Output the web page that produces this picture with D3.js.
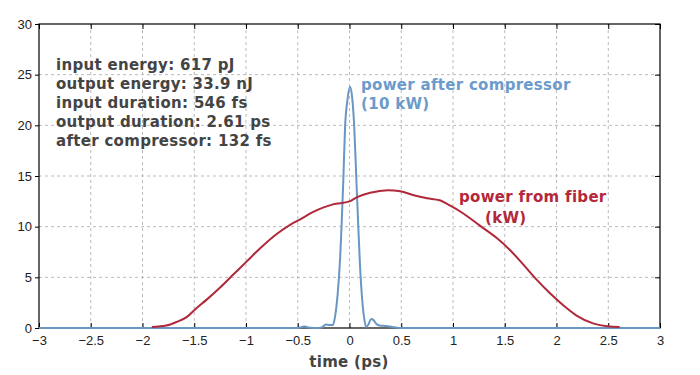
<!DOCTYPE html>
<html>
<head>
<meta charset="utf-8">
<script src="https://cdn.jsdelivr.net/npm/d3@7"></script>
<style>
  body { margin: 0; background: #fff; }
  svg { font-family: 'DejaVu Sans', sans-serif; }
  .grid line { stroke: #bbb; stroke-dasharray: 3,3; }
</style>
</head>
<body>
<svg width="700" height="375"></svg>
<script>
// power from fiber (kW) vs time (ps)
const fiberT = [-1.91, -1.77, -1.67, -1.57, -1.49, -1.38, -1.25, -1.12, -0.99, -0.86, -0.70, -0.57, -0.48, -0.35, -0.25, -0.16, 0,
  0.07, 0.2, 0.37, 0.49, 0.62, 0.75, 0.87, 0.97, 1.10, 1.26, 1.42, 1.55, 1.68, 1.81, 1.94, 2.07, 2.19, 2.36, 2.49, 2.61]
const fiberP = [0.1, 0.24, 0.6, 1.1, 1.85, 2.8, 4.0, 5.3, 6.6, 7.9, 9.3, 10.2, 10.7, 11.45, 11.9, 12.2, 12.5,
  12.9, 13.35, 13.6, 13.5, 13.1, 12.8, 12.6, 12.1, 11.3, 10.1, 8.9, 7.7, 6.25, 4.75, 3.4, 2.2, 1.25, 0.43, 0.17, 0.1]

// power after compressor (10 kW) vs time (ps)
const compT = [-3, -0.5, -0.46, -0.43, -0.40, -0.3, -0.26, -0.23, -0.19, -0.16, -0.14, -0.114, -0.09, -0.075, -0.06, -0.043, -0.02, 0.005,
  0.025, 0.046, 0.065, 0.085, 0.10, 0.118, 0.14, 0.16, 0.18, 0.21, 0.23, 0.26, 0.29, 0.35, 0.45, 0.5, 3]
const compP = [0, 0, 0.1, 0.15, 0.05, 0, 0.1, 0.35, 0.3, 0.3, 1.1, 3.4, 7, 10.5, 14.5, 19.8, 22.5, 23.8,
  22.8, 19.8, 15, 10, 6.5, 3.4, 1.1, 0.1, 0.3, 0.9, 0.8, 0.4, 0.25, 0.2, 0.05, 0, 0]

const xTicks = [-3, -2.5, -2, -1.5, -1, -0.5, 0, 0.5, 1, 1.5, 2, 2.5, 3]
const yTicks = [0, 5, 10, 15, 20, 25, 30]

const notes = ['input energy: 617 pJ', 'output energy: 33.9 nJ', 'input duration: 546 fs',
  'output duration: 2.61 ps', 'after compressor: 132 fs']

const svg = d3.select('svg')
const margin = { top: 24, right: 40, bottom: 47, left: 39 }
const width = 700 - margin.left - margin.right
const height = 375 - margin.top - margin.bottom

const g = svg.append('g').attr('transform', `translate(${margin.left},${margin.top})`)

const x = d3.scaleLinear().domain([-3, 3]).range([0, width])
const y = d3.scaleLinear().domain([0, 30]).range([height, 0])

// grid
const grid = g.append('g').attr('class', 'grid')
grid.selectAll('.gx').data(xTicks.slice(1, -1)).enter().append('line')
  .attr('x1', d => x(d)).attr('x2', d => x(d)).attr('y1', 0).attr('y2', height)
grid.selectAll('.gy').data(yTicks.slice(1, -1)).enter().append('line')
  .attr('x1', 0).attr('x2', width).attr('y1', d => y(d)).attr('y2', d => y(d))

const fmt = d => String(d).replace('-', '\u2212')

const axisStyle = sel => {
  sel.select('.domain').remove()
  sel.selectAll('line').attr('stroke', '#000')
  sel.selectAll('text').attr('fill', '#222').attr('font-size', 13)
}
g.append('g').attr('transform', `translate(0,${height})`)
  .call(d3.axisBottom(x).tickValues(xTicks).tickSize(-5).tickPadding(8).tickFormat(fmt))
  .call(axisStyle)
g.append('g')
  .call(d3.axisTop(x).tickValues(xTicks).tickSize(-5).tickFormat(''))
  .call(axisStyle)
g.append('g')
  .call(d3.axisLeft(y).tickValues(yTicks).tickSize(4).tickPadding(3))
  .call(axisStyle)
g.append('g').attr('transform', `translate(${width},0)`)
  .call(d3.axisRight(y).tickValues(yTicks).tickSize(-5).tickFormat(''))
  .call(axisStyle)

g.append('rect').attr('width', width).attr('height', height)
  .attr('fill', 'none').attr('stroke', '#000').attr('stroke-width', 1.2)

const line = d3.line().x(d => x(d[0])).y(d => y(d[1])).curve(d3.curveMonotoneX)

g.append('path').datum(d3.zip(compT, compP)).attr('d', line)
  .attr('fill', 'none').attr('stroke', '#6a96c2').attr('stroke-width', 2)
g.append('path').datum(d3.zip(fiberT, fiberP)).attr('d', line)
  .attr('fill', 'none').attr('stroke', '#b0283a').attr('stroke-width', 2)

// annotations
const label = (color) => g.append('text').attr('font-size', 15).attr('font-weight', 'bold')
  .attr('letter-spacing', 0.3).attr('fill', color)

const note = label('#444')
note.selectAll('tspan').data(notes).enter().append('tspan')
  .attr('x', 17).attr('y', (d, i) => 46 + i * 19).text(d => d)

const blue = label('#6a9bcb')
blue.append('tspan').attr('x', 322).attr('y', 66).text('power after compressor')
blue.append('tspan').attr('x', 322).attr('y', 85).text('(10 kW)')

const red = label('#b3283a')
red.append('tspan').attr('x', 420).attr('y', 178).text('power from fiber')
red.append('tspan').attr('x', 446).attr('y', 199).text('(kW)')

svg.append('text').attr('x', 349).attr('y', 367).attr('text-anchor', 'middle')
  .attr('font-size', 15).attr('font-weight', 'bold').attr('letter-spacing', 0.3)
  .attr('fill', '#444').text('time (ps)')
</script>
</body>
</html>
